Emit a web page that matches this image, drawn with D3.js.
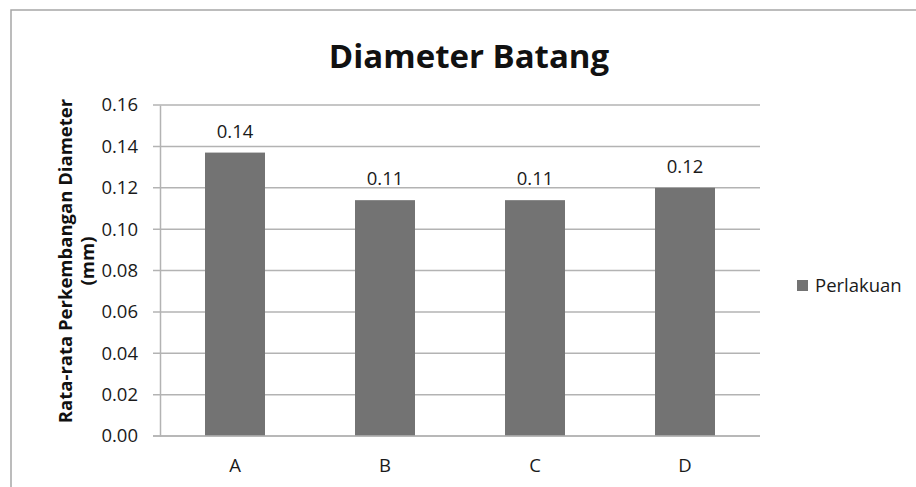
<!DOCTYPE html>
<html>
<head>
<meta charset="utf-8">
<script src="https://cdn.jsdelivr.net/npm/d3@7"></script>
<style>
  html, body { margin: 0; padding: 0; background: #fff; }
  svg { display: block; font-family: "Open Sans", "Noto Sans", sans-serif; }
</style>
</head>
<body>
<script>
const categories = ["A", "B", "C", "D"];
const values = [0.137, 0.114, 0.114, 0.120];
const valueLabels = ["0.14", "0.11", "0.11", "0.12"];
const yTicks = [0, 0.02, 0.04, 0.06, 0.08, 0.10, 0.12, 0.14, 0.16];
const seriesName = "Perlakuan";
const chartTitle = "Diameter Batang";
const yTitle = ["Rata-rata Perkembangan Diameter", "(mm)"];

const W = 916, H = 487;
const svg = d3.select("body").append("svg").attr("width", W).attr("height", H);

// outer chart frame
svg.append("rect").attr("x", 11).attr("y", 10).attr("width", W + 20).attr("height", H + 20)
  .attr("fill", "#fff").attr("stroke", "#a6a6a6").attr("stroke-width", 1.5);

const plot = { left: 160, right: 760, top: 105, bottom: 436 };

const x = d3.scaleBand().domain(categories)
  .range([plot.left, plot.right]).paddingInner(0.6).paddingOuter(0.3);
const y = d3.scaleLinear().domain([0, 0.16]).range([plot.bottom, plot.top]);

// gridlines
svg.append("g").selectAll("line").data(yTicks).join("line")
  .attr("x1", plot.left - 7).attr("x2", plot.right)
  .attr("y1", d => y(d)).attr("y2", d => y(d))
  .attr("stroke", "#b3b3b3").attr("stroke-width", 1.5);

// y axis
const yAxis = d3.axisLeft(y).tickValues(yTicks).tickFormat(d3.format(".2f")).tickSize(0).tickPadding(22);
const gy = svg.append("g").attr("transform", `translate(${plot.left},0)`).call(yAxis);
gy.select(".domain").attr("stroke", "#b3b3b3").attr("stroke-width", 1.5);
gy.selectAll("text").attr("font-size", 18.5).attr("fill", "#1a1a1a").attr("font-family", "Open Sans");

// bars
svg.append("g").selectAll("rect").data(values).join("rect")
  .attr("x", (d, i) => x(categories[i]))
  .attr("width", x.bandwidth())
  .attr("y", d => y(d))
  .attr("height", d => y(0) - y(d))
  .attr("fill", "#737373");

// value labels
svg.append("g").selectAll("text").data(values).join("text")
  .attr("x", (d, i) => x(categories[i]) + x.bandwidth() / 2)
  .attr("y", d => y(d) - 15)
  .attr("text-anchor", "middle").attr("font-size", 18.5).attr("fill", "#1a1a1a")
  .text((d, i) => valueLabels[i]);

// x axis
const xAxis = d3.axisBottom(x).tickSize(0).tickPadding(23);
const gx = svg.append("g").attr("transform", `translate(0,${plot.bottom})`).call(xAxis);
gx.select(".domain").remove();
gx.selectAll("text").attr("font-size", 18.5).attr("fill", "#1a1a1a").attr("font-family", "Open Sans");
svg.append("line").attr("x1", plot.left - 7).attr("x2", plot.right)
  .attr("y1", plot.bottom).attr("y2", plot.bottom)
  .attr("stroke", "#b3b3b3").attr("stroke-width", 1.5);

// title
svg.append("text").attr("x", 469).attr("y", 68).attr("text-anchor", "middle")
  .attr("font-size", 33).attr("font-weight", "bold").attr("fill", "#111")
  .text(chartTitle);

// y title
const yt = svg.append("text").attr("transform", "rotate(-90)")
  .attr("text-anchor", "middle").attr("font-size", 18.5).attr("font-weight", "bold").attr("fill", "#111");
yt.selectAll("tspan").data(yTitle).join("tspan")
  .attr("x", -261).attr("y", (d, i) => 72 + i * 22)
  .text(d => d);

// legend
svg.append("rect").attr("x", 797).attr("y", 280).attr("width", 11).attr("height", 11).attr("fill", "#737373");
svg.append("text").attr("x", 815).attr("y", 292).attr("font-size", 18.5).attr("fill", "#1a1a1a").text(seriesName);
</script>
</body>
</html>
